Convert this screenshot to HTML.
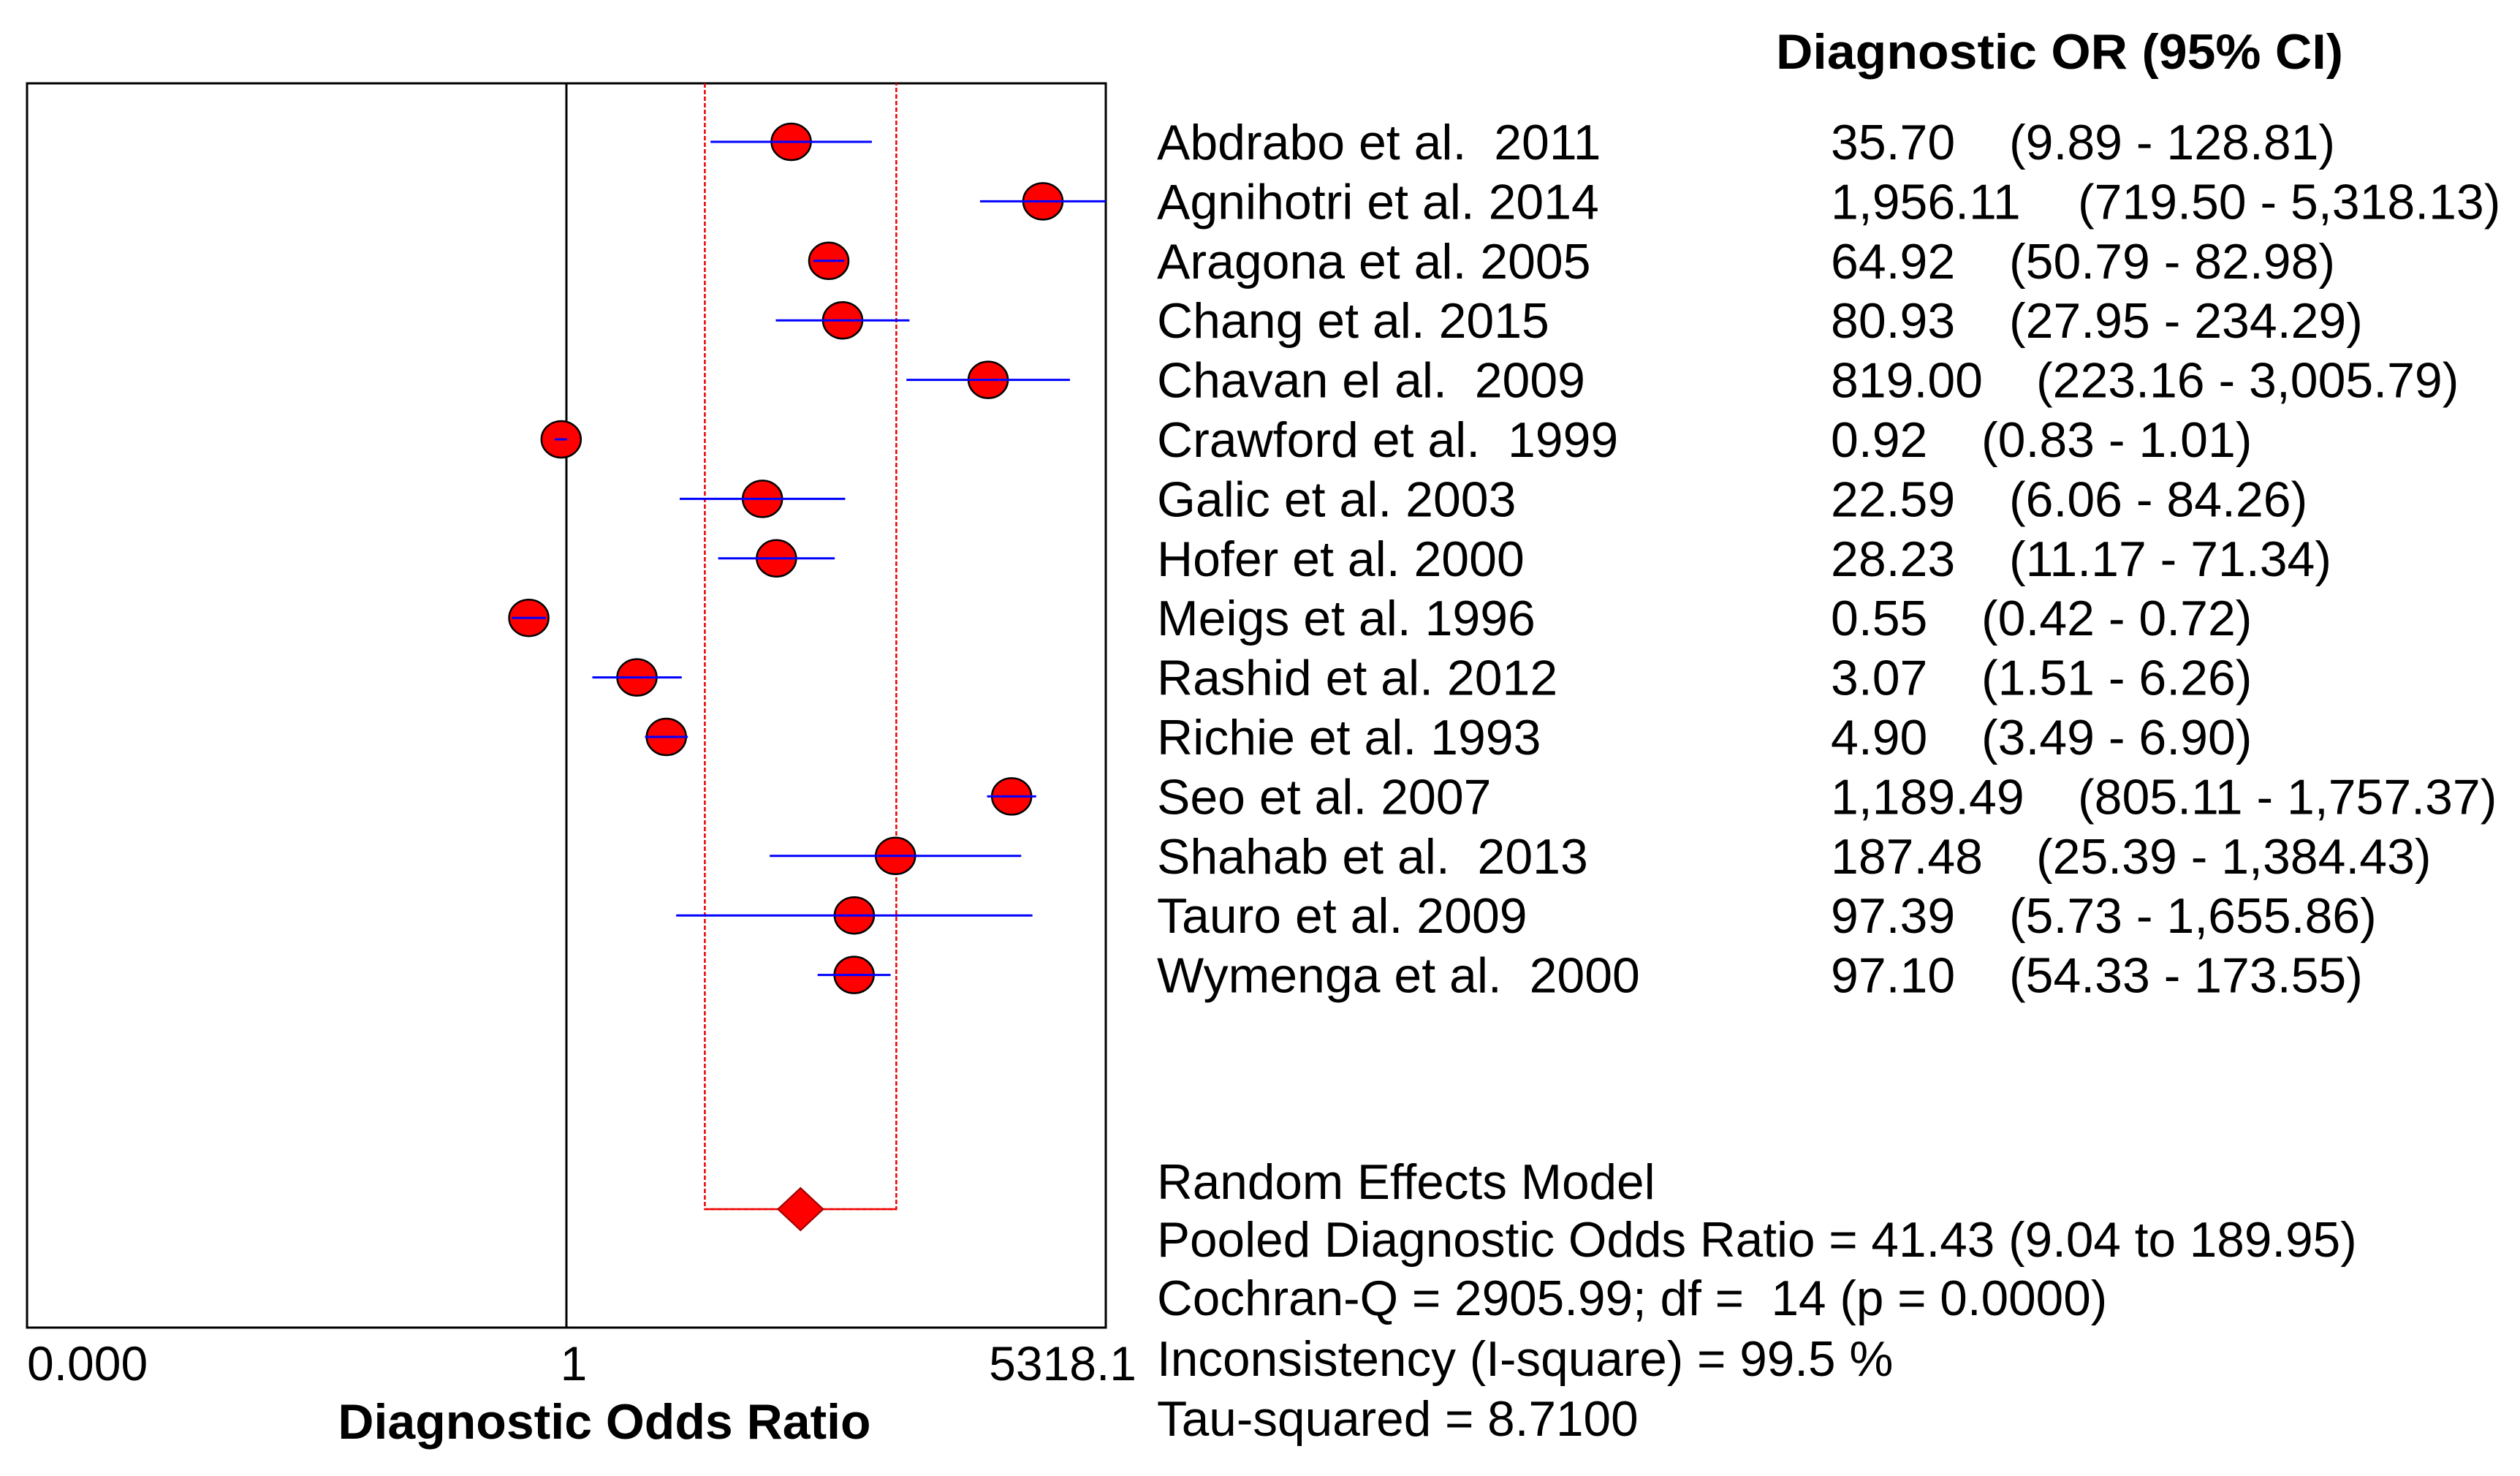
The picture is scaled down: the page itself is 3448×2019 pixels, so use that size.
<!DOCTYPE html>
<html><head><meta charset="utf-8"><style>
html,body{margin:0;padding:0;background:#fff;}
svg{display:block;font-family:"Liberation Sans",Arial,sans-serif;}
text{white-space:pre;}
</style></head><body>
<svg id="chart" width="3448" height="2019" viewBox="0 0 3448 2019" xmlns="http://www.w3.org/2000/svg" xml:space="preserve">
<rect x="0" y="0" width="3448" height="2019" fill="#fff"/>
<rect x="37" y="114" width="1476" height="1702" fill="none" stroke="#000" stroke-width="3"/>
<g id="marks"></g>
<text x="2430" y="94" font-size="68" font-weight="bold" textLength="776" lengthAdjust="spacingAndGlyphs">Diagnostic OR (95% CI)</text>
<g id="rows"></g>
<text x="37" y="1888" font-size="66">0.000</text>
<text x="785" y="1888" font-size="66" text-anchor="middle">1</text>
<text x="1555" y="1888" font-size="66" text-anchor="end">5318.1</text>
<text x="827" y="1968" font-size="68" font-weight="bold" text-anchor="middle">Diagnostic Odds Ratio</text>
<g font-size="67.5">
<text x="1583" y="1640">Random Effects Model</text>
<text x="1583" y="1719">Pooled Diagnostic Odds Ratio = 41.43 (9.04 to 189.95)</text>
<text x="1583" y="1799">Cochran-Q = 2905.99; df =  14 (p = 0.0000)</text>
<text x="1583" y="1882">Inconsistency (I-square) = 99.5 %</text>
<text x="1583" y="1964">Tau-squared = 8.7100</text>
</g>
</svg>
<script>
const studies = ["Abdrabo et al.  2011","Agnihotri et al. 2014","Aragona et al. 2005","Chang et al. 2015","Chavan el al.  2009","Crawford et al.  1999","Galic et al. 2003","Hofer et al. 2000","Meigs et al. 1996","Rashid et al. 2012","Richie et al. 1993","Seo et al. 2007","Shahab et al.  2013","Tauro et al. 2009","Wymenga et al.  2000"];
const orValues = [35.70,1956.11,64.92,80.93,819.00,0.92,22.59,28.23,0.55,3.07,4.90,1189.49,187.48,97.39,97.10];
const ciLower = [9.89,719.50,50.79,27.95,223.16,0.83,6.06,11.17,0.42,1.51,3.49,805.11,25.39,5.73,54.33];
const ciUpper = [128.81,5318.13,82.98,234.29,3005.79,1.01,84.26,71.34,0.72,6.26,6.90,1757.37,1384.43,1655.86,173.55];
const orText = ["35.70","1,956.11","64.92","80.93","819.00","0.92","22.59","28.23","0.55","3.07","4.90","1,189.49","187.48","97.39","97.10"];
const ciText = ["(9.89 - 128.81)","(719.50 - 5,318.13)","(50.79 - 82.98)","(27.95 - 234.29)","(223.16 - 3,005.79)","(0.83 - 1.01)","(6.06 - 84.26)","(11.17 - 71.34)","(0.42 - 0.72)","(1.51 - 6.26)","(3.49 - 6.90)","(805.11 - 1,757.37)","(25.39 - 1,384.43)","(5.73 - 1,655.86)","(54.33 - 173.55)"];
const pooled = [41.43, 9.04, 189.95];
const axisMax = 5318.1;

const NS = "http://www.w3.org/2000/svg";
const plotL = 37, plotR = 1513, plotT = 114, plotB = 1816;
const xOne = (plotL + plotR) / 2;
const perDecade = (plotR - xOne) / Math.log10(axisMax);
function xScale(v){ return xOne + Math.log10(v) * perDecade; }
function clampX(x){ return Math.max(plotL, Math.min(plotR, x)); }
function yRow(i){ return 194 + i * 81.4; }
const yPooled = 1654;
function mk(tag, attrs){ const e = document.createElementNS(NS, tag); for (const k in attrs) e.setAttribute(k, attrs[k]); return e; }

const marks = document.getElementById('marks');
const ref = mk('line', {x1: xOne, x2: xOne, y1: plotT, y2: plotB, stroke: '#000', 'stroke-width': 3});


marks.appendChild(ref);
const xl = xScale(pooled[1]), xu = xScale(pooled[2]);
const box = mk('path', {d: `M${xl},${plotT} L${xl},${yPooled} L${xu},${yPooled} L${xu},${plotT}`, fill: 'none', stroke: '#e00', 'stroke-width': 2.5, 'stroke-dasharray': '6,3'});


marks.appendChild(box);
const base = mk('line', {x1: xl, x2: xu, y1: yPooled, y2: yPooled, stroke: '#e00', 'stroke-width': 2.5});


marks.appendChild(base);
const xp = xScale(pooled[0]);
const dia = mk('polygon', {points: `${xp-31},${yPooled} ${xp},${yPooled-29} ${xp+31},${yPooled} ${xp},${yPooled+29}`, fill: '#f00', stroke: '#900', 'stroke-width': 2});


marks.appendChild(dia);

const rows = document.getElementById('rows');
const ciX = [2749,2843,2749,2749,2786,2711,2749,2749,2711,2711,2711,2843,2786,2749,2749];
studies.forEach((s, i) => {
  const y = yRow(i);
  const dot = mk('ellipse', {cx: xScale(orValues[i]), cy: y, rx: 27, ry: 25, fill: '#f00', stroke: '#000', 'stroke-width': 2.5});
  
  
  marks.appendChild(dot);
  const ci = mk('line', {x1: clampX(xScale(ciLower[i])), x2: clampX(xScale(ciUpper[i])), y1: y, y2: y, stroke: '#00f', 'stroke-width': 3});
  
  
  marks.appendChild(ci);
  const t1 = mk('text', {x: 1583, y: y + 24, 'font-size': 68});
  t1.textContent = s;
  
  
  rows.appendChild(t1);
  const t2 = mk('text', {x: 2505, y: y + 24, 'font-size': 68});
  t2.textContent = orText[i];
  
  
  rows.appendChild(t2);
  const t3 = mk('text', {x: ciX[i], y: y + 24, 'font-size': 68});
  t3.textContent = ciText[i];
  
  
  rows.appendChild(t3);
});
</script>
</body></html>
